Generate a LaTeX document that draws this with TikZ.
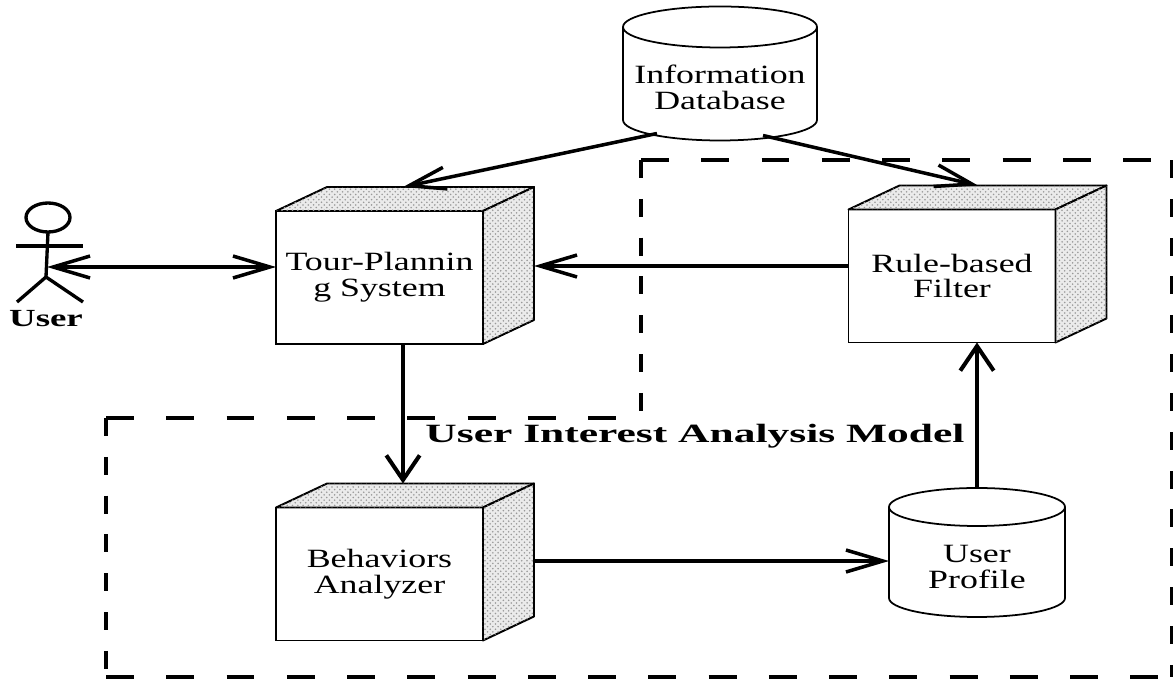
\documentclass[tikz,border=0pt]{standalone}
\usepackage{fontspec}
\setmainfont[FakeStretch=1.36]{Liberation Serif}
\newfontfamily\titlefont[FakeStretch=1.65]{Liberation Serif}
\newfontfamily\userfont[FakeStretch=1.5]{Liberation Serif}
\usetikzlibrary{shapes.geometric}
\usetikzlibrary{arrows.meta}
\usetikzlibrary{patterns}
\usetikzlibrary{calc}

\tikzset{
    cubebox/.style={draw, line width=1.1pt, fill=white, align=center, inner sep=0pt, outer sep=0pt,
        minimum width=4.14cm, minimum height=2.66cm, font=\fontsize{15}{14.7}\selectfont},
    cubeside/.style={draw, line width=1.1pt, fill=black!8, line join=round,
        postaction={pattern=crosshatch dots, pattern color=black!40}},
    drum/.style={align=center, inner sep=0pt, outer sep=0pt, font=\fontsize{15}{14.7}\selectfont},
    drumline/.style={line width=1pt, line join=round},
    flowh/.style={line width=2pt, -{Straight Barb[length=21pt, width=12.5pt]}},
    flowv/.style={line width=2.3pt, -{Straight Barb[length=14pt, width=19pt]}},
    frameh/.style={line width=1.8pt, dash pattern=on 15.9pt off 18.4pt},
    framev/.style={line width=1.9pt, dash pattern=on 10.2pt off 11.9pt},
    stick/.style={line width=1.9pt}
}

% side and top faces behind a front node
\newcommand{\cubesides}[1]{
    \draw[cubeside] (#1.north west) -- ++(51,-24) -- ($(#1.north east)+(51,-24)$) -- (#1.north east) -- cycle;
    \draw[cubeside] (#1.north east) -- ++(51,-24) -- ($(#1.south east)+(51,-24)$) -- (#1.south east) -- cycle;
}
% drum round a node: name, x radius, y radius, wall length
\newcommand{\drumoutline}[4]{
    \draw[drumline] ($(#1.south)+(-#2,-#3)$) -- ++(0,-#4)
        arc[start angle=180, end angle=360, x radius=#2, y radius=#3] -- ++(0,#4)
        arc[start angle=0, end angle=180, x radius=#2, y radius=#3] -- cycle;
    \draw[drumline] ($(#1.south)+(-#2,-#3-#4)$) arc[start angle=180, end angle=0, x radius=#2, y radius=#3];
}

\begin{document}
\begin{tikzpicture}[x=0.02cm, y=-0.02cm]
    \useasboundingbox (0,0) rectangle (1173,682);

    % Dashed frame of the model
    \draw[frameh] (641,160) -- (1173,160);
    \draw[framev] (641,160) -- (641,415);
    \draw[frameh] (106,418) -- (641,418);
    \draw[framev] (106,418) -- (106,677);
    \draw[frameh] (106,677) -- (1173,677);
    \draw[framev] (1172,160) -- (1172,677);

    % Storage
    \node[drum, minimum width=3.88cm, minimum height=2.14cm] (infodb) at (720,87) {Information\\Database};
    \node[drum, minimum width=3.52cm, minimum height=2cm] (profile) at (977,567) {User\\Profile};
    \drumoutline{infodb}{97}{20.5}{93}
    \drumoutline{profile}{88}{19}{91}

    % Boxes
    \node[cubebox] (tour) at (379.5,277.5) {Tour-Plannin\\g System};
    \node[cubebox] (filter) at (952,276) {Rule-based\\Filter};
    \node[cubebox] (analyzer) at (379.5,574) {Behaviors\\Analyzer};
    \cubesides{tour}
    \cubesides{filter}
    \cubesides{analyzer}

    % Actor
    \node[ellipse, draw, line width=1.9pt, minimum width=0.88cm, minimum height=0.58cm, inner sep=0pt, outer sep=0pt] (head) at (48,217.5) {};
    \node[font=\fontsize{14}{14}\selectfont\userfont\bfseries, inner sep=0pt] (userlabel) at (46,319) {User};
    \coordinate (hip) at (46,277);
    \draw[stick] (head.south) -- (hip);
    \draw[stick] (16,246) -- (83,246);
    \draw[stick] (17,302) -- (hip) -- (83,302);
    \coordinate (hand) at (47,267);

    % Connectors
    \draw[flowh] (infodb.south) ++(-63,-7) -- ($(tour.north)+(23.5,-24)$);
    \draw[flowh] (infodb.south) ++(43,-5) -- ($(filter.north)+(26,-24)$);
    \draw[flowh, {Straight Barb[length=21pt, width=12.5pt]}-{Straight Barb[length=21pt, width=12.5pt]}] (hand) -- (hand -| tour.west);
    \draw[flowh] ($(filter.west)+(0,-10)$) -- ($(tour.east)+(51,-11.5)$);
    \draw[flowv] ($(tour.south)+(23.5,0)$) -- ($(analyzer.north)+(23.5,-24)$);
    \draw[flowh] ($(analyzer.east)+(51,-13)$) -- (profile.west |- {$(analyzer.east)+(51,-13)$});
    \draw[flowv] ($(profile.south)+(0,-129)$) -- ($(filter.south)+(25,0)$);

    % Model name
    \node[font=\fontsize{15}{15}\selectfont\titlefont\bfseries, inner sep=0pt] (modelname) at (695,436) {User Interest Analysis Model};
\end{tikzpicture}
\end{document}
